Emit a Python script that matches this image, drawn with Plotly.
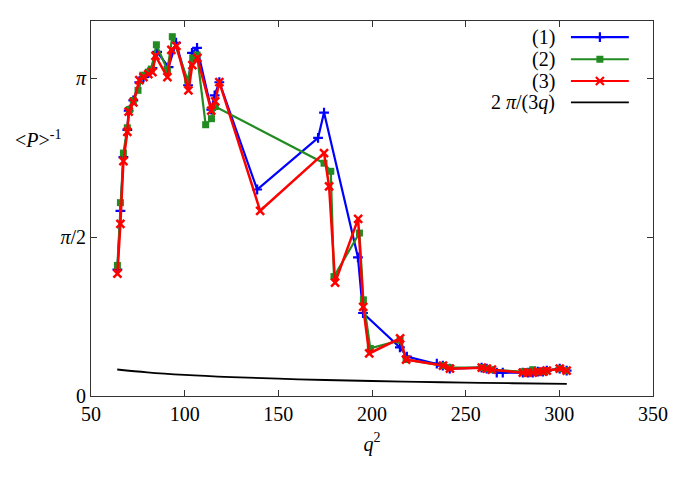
import math
import plotly.graph_objects as go

# ---- data ----
q2_1 = [64.1, 65.7, 67.3, 69.4, 70.1, 72.6, 75.8, 78.0, 80.6, 82.8, 85.3, 91.4, 95.4, 101.8,
        103.9, 106.6, 114.2, 116.0, 118.5, 138.7, 171.2, 174.4, 192.5, 195.2, 214.9, 218.6,
        234.6, 237.8, 241.5, 258.5, 261.2, 266.6, 269.8, 280.5, 283.2, 285.8, 288.5, 291.2,
        293.3, 300.2, 303.9]
p_1 = [1.25, 1.83, 2.36, 2.63, 2.82, 2.92, 3.10, 3.15, 3.19, 3.24, 3.40, 3.25, 3.49, 3.07,
       3.39, 3.44, 2.83, 2.97, 3.10, 2.04, 2.55, 2.80, 1.37, 0.82, 0.48, 0.39,
       0.32, 0.30, 0.27, 0.28, 0.27, 0.23, 0.23, 0.23, 0.23, 0.23, 0.24, 0.24,
       0.25, 0.27, 0.25]

q2_2 = [64.1, 65.7, 67.3, 69.4, 70.5, 72.6, 75.1, 77.7, 80.6, 82.2, 84.9, 90.8, 93.4, 101.6,
        104.3, 106.6, 111.2, 114.3, 116.3, 174.4, 178.0, 179.7, 193.3, 195.4, 199.1, 215.0,
        218.2, 237.9, 241.6, 258.6, 261.3, 264.0, 280.5, 283.2, 285.8, 288.5, 291.2, 293.3,
        300.2, 303.9]
p_2 = [1.29, 1.91, 2.40, 2.65, 2.83, 2.92, 3.02, 3.17, 3.20, 3.23, 3.47, 3.22, 3.55, 3.12,
       3.34, 3.37, 2.68, 2.74, 2.86, 2.30, 2.22, 1.18, 1.61, 0.95, 0.47, 0.55,
       0.36, 0.30, 0.28, 0.28, 0.27, 0.26, 0.24, 0.24, 0.26, 0.24, 0.24, 0.25,
       0.27, 0.25]

q2_3 = [64.1, 65.7, 67.3, 69.4, 70.1, 72.6, 75.8, 78.0, 80.6, 82.8, 84.4, 90.8, 92.9, 95.6,
        102.0, 104.1, 106.8, 114.2, 116.3, 118.5, 140.3, 174.4, 177.1, 180.3, 192.6, 195.3,
        198.5, 215.0, 218.2, 237.9, 241.6, 258.6, 261.3, 264.0, 280.5, 283.2, 285.8, 288.5,
        291.2, 293.3, 300.2, 303.9]
p_3 = [1.21, 1.70, 2.32, 2.61, 2.81, 2.90, 3.12, 3.15, 3.18, 3.20, 3.36, 3.15, 3.42, 3.46,
       3.02, 3.27, 3.34, 2.82, 2.91, 3.10, 1.83, 2.40, 2.07, 1.12, 1.75, 0.88,
       0.42, 0.57, 0.36, 0.30, 0.27, 0.28, 0.27, 0.26, 0.23, 0.23, 0.23, 0.24,
       0.24, 0.25, 0.27, 0.25]

q2_ref = [64, 80, 100, 125, 150, 175, 200, 225, 250, 275, 304]
p_ref = [0.262, 0.234, 0.209, 0.187, 0.171, 0.158, 0.148, 0.140, 0.132, 0.126, 0.120]

y_tickvals = [0, math.pi / 2, math.pi]
y_ticktext = ["0", "<i>π</i>/2", "<i>π</i>"]
x_tickvals = [50, 100, 150, 200, 250, 300, 350]

legend_labels = ["(1)", "(2)", "(3)", "2 <i>π</i>/(3<i>q</i>)"]

BLUE = "#0000ff"
GREEN = "#228b22"
RED = "#ff0000"
BLACK = "#000000"
FONT = "Liberation Serif"
FS = 20

fig = go.Figure()

fig.add_trace(go.Scatter(x=q2_ref, y=p_ref, mode="lines", line=dict(color=BLACK, width=1.8, shape="spline"),
                         showlegend=False))
fig.add_trace(go.Scatter(x=q2_1, y=p_1, mode="lines+markers", line=dict(color=BLUE, width=2.2),
                         marker=dict(symbol="cross-thin", size=7, line=dict(color=BLUE, width=2.2)),
                         showlegend=False))
fig.add_trace(go.Scatter(x=q2_2, y=p_2, mode="lines+markers", line=dict(color=GREEN, width=2.2),
                         marker=dict(symbol="square", size=7, color=GREEN),
                         showlegend=False))
fig.add_trace(go.Scatter(x=q2_3, y=p_3, mode="lines+markers", line=dict(color=RED, width=2.5),
                         marker=dict(symbol="x-thin", size=8, line=dict(color=RED, width=2.5)),
                         showlegend=False))

# custom gnuplot-style key (text left, sample right)
key_colors = [BLUE, GREEN, RED, BLACK]
key_symbols = ["cross-thin", "square", "x-thin", None]
key_y = [0.957, 0.898, 0.840, 0.783]
for lab, col, sym, ky in zip(legend_labels, key_colors, key_symbols, key_y):
    fig.add_annotation(xref="paper", yref="paper", x=0.83, y=ky, text=lab, showarrow=False,
                       xanchor="right", yanchor="middle", font=dict(family=FONT, size=FS, color="black"))
    fig.add_shape(type="line", xref="paper", yref="paper", x0=0.854, x1=0.957, y0=ky, y1=ky,
                  line=dict(color=col, width=2.2 if sym else 1.8))
    if sym:
        mk = dict(symbol=sym, size=7 if sym != "x-thin" else 8, color=col)
        if "thin" in sym:
            mk["line"] = dict(color=col, width=2.2)
        fig.add_trace(go.Scatter(x=[0.9055], y=[ky], xaxis="x2", yaxis="y2", mode="markers",
                                 marker=mk, showlegend=False, hoverinfo="skip"))

fig.add_annotation(xref="paper", yref="paper", x=-0.05, y=0.685, text="&lt;<i>P</i>&gt;<sup>-1</sup>",
                   showarrow=False, xanchor="right", yanchor="middle",
                   font=dict(family=FONT, size=FS, color="black"))

fig.update_layout(
    width=692, height=485,
    margin=dict(l=83, r=47, t=13, b=97),
    paper_bgcolor="white", plot_bgcolor="white",
    font=dict(family=FONT, size=FS, color="black"),
    xaxis=dict(range=[50, 350], tickvals=x_tickvals, ticks="inside", ticklen=6, tickwidth=1,
               tickcolor="#333", showline=True, linecolor="#333", linewidth=1, mirror="ticks",
               showgrid=False, zeroline=False, tickfont=dict(family=FONT, size=FS),
               title=dict(text="<i>q</i><sup>2</sup>", font=dict(family=FONT, size=FS), standoff=12)),
    yaxis=dict(range=[0, 3.705], tickvals=y_tickvals, ticktext=y_ticktext, ticks="inside", ticklen=6,
               tickwidth=1, tickcolor="#333", showline=True, linecolor="#333", linewidth=1,
               mirror="ticks", showgrid=False, zeroline=False, tickfont=dict(family=FONT, size=FS)),
    xaxis2=dict(range=[0, 1], overlaying="x", visible=False),
    yaxis2=dict(range=[0, 1], overlaying="y", visible=False),
)

fig.write_html("out.html")
